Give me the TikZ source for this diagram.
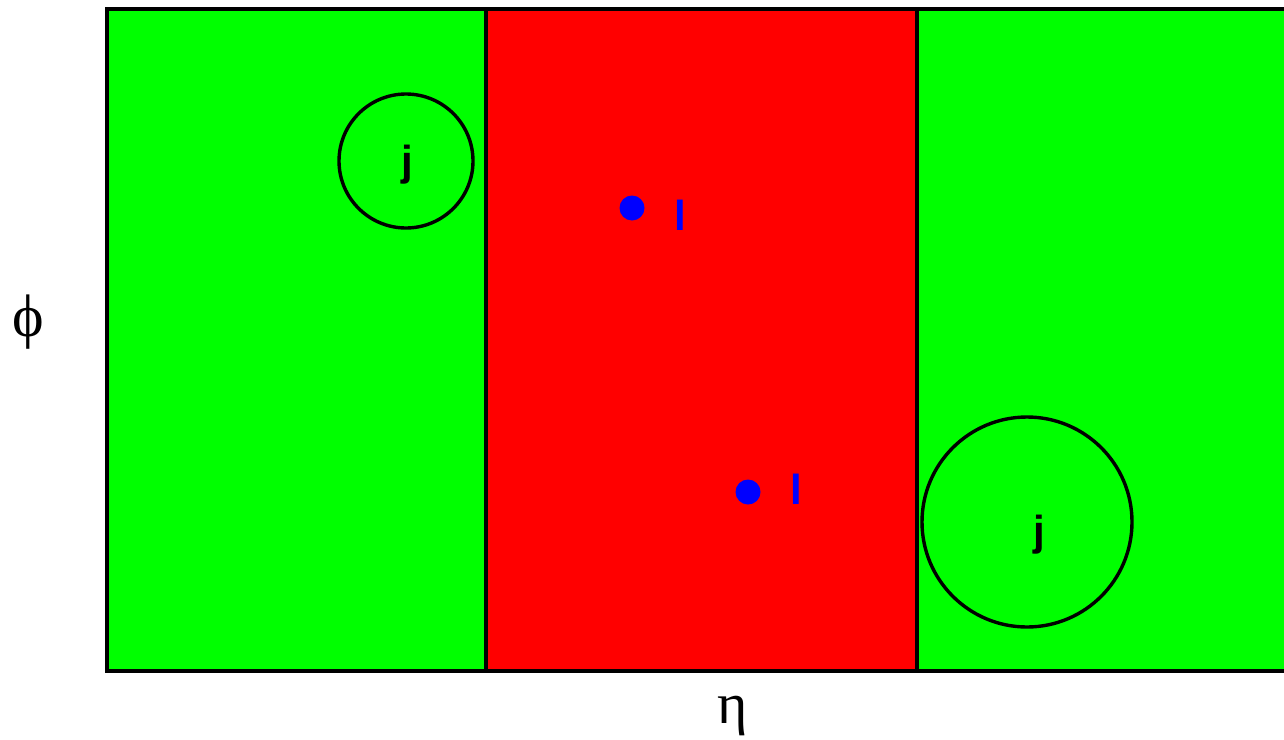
\documentclass[tikz,border=0pt]{standalone}
\usepackage{fontspec}
\setmainfont{Liberation Serif}
\newfontfamily\labelfont{Liberation Sans}
\begin{document}
\begin{tikzpicture}[x=0.5pt,y=-0.5pt,
    jetcone/.style={draw,circle,line width=1.7pt,inner sep=0pt},
    jetlabel/.style={font=\labelfont\bfseries\fontsize{21}{25}\selectfont,inner sep=0pt},
    leplabel/.style={font=\labelfont\bfseries\fontsize{21}{25}\selectfont,text=blue,inner sep=0pt},
    lepdot/.style={fill=blue,circle,inner sep=0pt,minimum size=12.5pt},
    axislabel/.style={inner sep=0pt}]
    % Rahmen (rechts abgeschnitten)
    \useasboundingbox (0,0) rectangle (1284,739);
    \clip (0,0) rectangle (1284,739);

    % Bereiche in eta
    \fill[green] (107,9) rectangle (1320,671);
    \fill[red] (486,9) rectangle (917,671);
    \draw[line width=1.8pt] (486,9) -- (486,671);
    \draw[line width=1.8pt] (917,9) -- (917,671);
    \draw[line width=1.8pt] (107,9) rectangle (1320,671);

    % Jets
    \node[jetcone,minimum size=67pt] (cone1) at (406,161) {};
    \node[jetlabel] (jet1) at (407,165) {j};
    \node[jetcone,minimum size=105pt] (cone2) at (1027,522) {};
    \node[jetlabel] (jet2) at (1039,535) {j};

    % Leptonen
    \node[lepdot] (dot1) at (632,208) {};
    \node[leplabel] (lep1) at (680,215) {l};
    \node[lepdot] (dot2) at (748,492) {};
    \node[leplabel] (lep2) at (796,489) {l};

    % Achsen
    \node[axislabel,font=\fontsize{30}{34}\selectfont] (phi) at (28,322) {ϕ};
    \node[axislabel,font=\fontsize{29}{33}\selectfont] (eta) at (733,716) {η};
\end{tikzpicture}
\end{document}
